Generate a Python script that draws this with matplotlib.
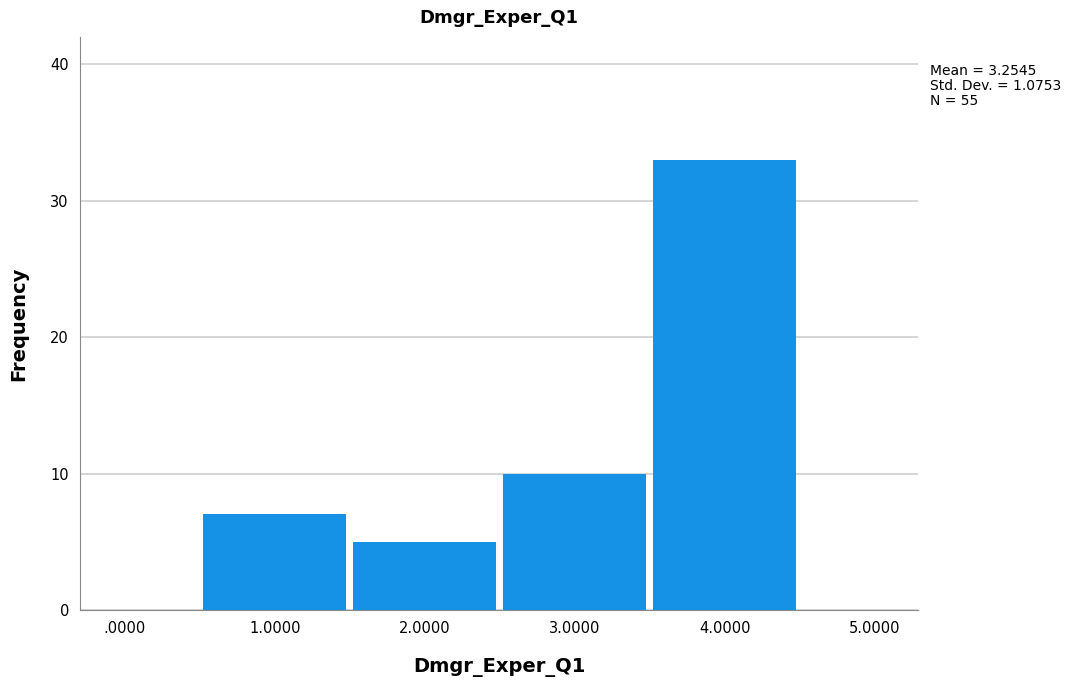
import numpy as np
import matplotlib
matplotlib.use('Agg')
import matplotlib.pyplot as plt

values = [1, 2, 3, 4]
counts = [7, 5, 10, 33]
xticks = [0, 1, 2, 3, 4, 5]
xticklabels = ['.0000', '1.0000', '2.0000', '3.0000', '4.0000', '5.0000']
stats = ['Mean = 3.2545', 'Std. Dev. = 1.0753', 'N = 55']

fig = plt.figure(figsize=(10.78, 6.84), dpi=100)
ax = fig.add_axes([0.0742, 0.1082, 0.7774, 0.8378])

ax.bar(values, counts, width=0.955, color='#1591e6', linewidth=0, zorder=3)

ax.set_xlim(-0.3, 5.29)
ax.set_ylim(0, 42)
ax.set_yticks([0, 10, 20, 30, 40])
ax.set_xticks(xticks)
ax.set_xticklabels(xticklabels)
ax.tick_params(axis='both', length=0, labelsize=10.5, pad=8)
ax.yaxis.grid(True, color='#d0d0d0', linewidth=1.2, zorder=0)
for s in ['top', 'right']:
    ax.spines[s].set_visible(False)
for s in ['left', 'bottom']:
    ax.spines[s].set_color('#888888')

ax.set_title('Dmgr_Exper_Q1', fontsize=13, fontweight='bold', pad=10)
ax.set_xlabel('Dmgr_Exper_Q1', fontsize=14, fontweight='bold', labelpad=16)
ax.set_ylabel('Frequency', fontsize=14, fontweight='bold', labelpad=16)

fig.text(0.863, 0.907, '\n'.join(stats), fontsize=10, va='top', ha='left',
         linespacing=1.1)

plt.savefig('out.png', dpi=100)
